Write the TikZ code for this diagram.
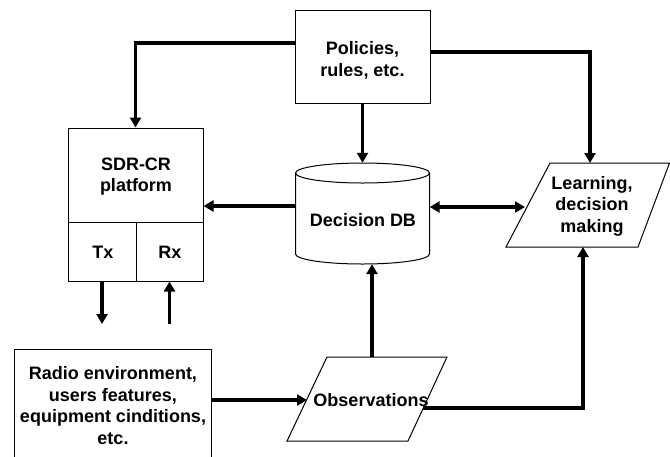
\documentclass[tikz,border=0pt]{standalone}
\usepackage{fontspec}
\setmainfont{Liberation Sans}
\usetikzlibrary{arrows.meta}
\begin{document}
\begin{tikzpicture}[x=1pt,y=-1pt,
  lbl/.style={font=\fontsize{18}{21.5}\selectfont\bfseries, align=center, inner sep=0pt},
  box/.style={draw, line width=1pt, inner sep=0pt},
  frame/.style={line width=1pt, line join=miter},
  tip/.tip={Triangle[length=10pt,width=11pt]},
  link/.style={line width=3.6pt, -tip},
]
\clip (0,0) rectangle (670,456);

% policies block
\node[box, minimum width=135pt, minimum height=93pt] (pol) at (362.5,56.5) {};
\node[lbl] (polt) at (362.5,60.5) {Policies,\\rules, etc.};

% SDR-CR platform with its Tx / Rx cells
\node[box, minimum width=135pt, minimum height=94pt] (sdr) at (135.5,175) {};
\node[lbl] (sdrt) at (136,176.5) {SDR-CR\\platform};
\node[box, minimum width=68pt, minimum height=59pt] (tx) at (102,251.5) {};
\node[lbl] (txt) at (103,252) {Tx};
\node[box, minimum width=67pt, minimum height=59pt] (rx) at (169.5,251.5) {};
\node[lbl] (rxt) at (170,252) {Rx};

% decision database (cylinder)
\node[minimum width=134pt, minimum height=101pt, inner sep=0pt] (db) at (362.5,213.5) {};
\draw[frame] (362.5,173) ellipse [x radius=67, y radius=10];
\draw[frame] (295.5,173) -- (295.5,254)
  arc[start angle=180, end angle=0, x radius=67, y radius=10] -- (429.5,173);
\node[lbl] (dbt) at (363,220) {Decision DB};

% learning / decision making
\draw[frame] (550,163) -- (669.5,163) -- (638,247) -- (506,247) -- cycle;
\node[lbl] (lrn) at (592,206) {Learning,\\decision\\making};
\coordinate (lrntop) at (590,163);
\coordinate (lrnbot) at (583,247);
\coordinate (lrnleft) at (525,207);

% environment
\node[box, minimum width=197pt, minimum height=112pt] (env) at (112.5,405) {};
\node[lbl] (envt) at (113,405.5) {Radio environment,\\users features,\\equipment cinditions,\\etc.};

% observations
\draw[frame] (327,357) -- (447,357) -- (408,441) -- (287,441) -- cycle;
\node[lbl] (obs) at (371,400) {Observations};
\coordinate (obstop) at (372,357);
\coordinate (obsleft) at (307,400);
\coordinate (obsout) at (423,408);

% free ends of the radio links
\coordinate (txout) at (102,324);
\coordinate (rxin) at (169.5,324);
\coordinate (dbw) at (295.5,206);

% connectors
\draw[link] ([yshift=13.5pt]pol.west) -| (sdr.north);
\draw[link] ([yshift=4.5pt]pol.east) -| (lrntop);
\draw[link] (pol.south) -- (db.north);
\draw[link] (dbw) -- (sdr.east |- dbw);
\draw[link, tip-tip] (db.east |- lrnleft) -- (lrnleft);
\draw[link] (tx.south) -- (txout);
\draw[link] (rxin) -- (rx.south);
\draw[link] (env.east |- obsleft) -- (obsleft);
\draw[link] (obstop) -- (obstop |- db.south);
\draw[link] (obsout) -| (lrnbot);
\end{tikzpicture}
\end{document}
